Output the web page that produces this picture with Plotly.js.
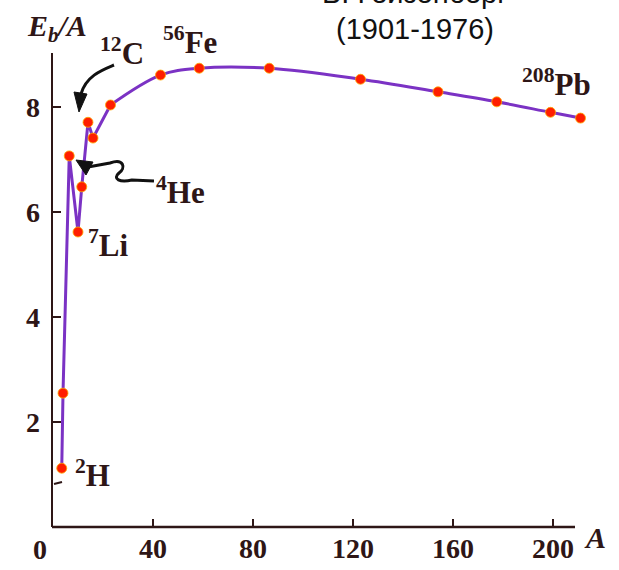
<!DOCTYPE html>
<html><head><meta charset="utf-8">
<script src="https://cdn.plot.ly/plotly-3.0.1.min.js"></script>
<style>html,body{margin:0;padding:0;background:#fff}#chart{width:619px;height:570px}</style>
</head><body><div id="chart"></div>
<script>
// Data
const massNumber = [3.5, 4, 6.5, 10, 11.5, 14, 16, 23, 43, 58.5, 86.5, 123, 154, 177.5, 199, 211];
const bindingPerNucleon = [1.12, 2.55, 7.07, 5.62, 6.48, 7.71, 7.41, 8.04, 8.61, 8.74, 8.74, 8.53, 8.29, 8.10, 7.90, 7.79];
const xTicks = [40, 80, 120, 160, 200];
const yTicks = [2, 4, 6, 8];
const nuclideLabels = ['<sup>2</sup>H', '<sup>4</sup>He', '<sup>7</sup>Li', '<sup>12</sup>C', '<sup>56</sup>Fe', '<sup>208</sup>Pb'];
const headerLines = ['В. Гейзенберг', '(1901-1976)'];

// layout geometry (pixels)
const W = 619, H = 570, L = 53, B = 43, T = 53;
const XPX = 2.5;                 // pixels per unit of A
const xMax = 222;                // data range so the end markers are drawn
const R = W - L - xMax * XPX;
const PW = W - L - R, PH = H - T - B;
const px = x => (x - L) / PW;          // pixel -> paper x
const py = y => (H - B - y) / PH;      // pixel -> paper y
const pathFrom = (cmds) => cmds.map(c => {
  let s = c[0];
  for (let i = 1; i < c.length; i += 2) s += (i > 1 ? ' ' : '') + px(c[i]).toFixed(5) + ',' + py(c[i + 1]).toFixed(5);
  return s;
}).join(' ');

const split = 7; // linear part up to this index, spline beyond
const lineColor = '#7b32c4';
const ink = '#2e1616';

const traces = [
  {x: massNumber.slice(0, split + 1), y: bindingPerNucleon.slice(0, split + 1), mode: 'lines',
   line: {color: lineColor, width: 3, shape: 'linear'}, hoverinfo: 'skip'},
  {x: massNumber.slice(split), y: bindingPerNucleon.slice(split), mode: 'lines',
   line: {color: lineColor, width: 3, shape: 'spline', smoothing: 1}, hoverinfo: 'skip'},
  {x: massNumber, y: bindingPerNucleon, mode: 'markers',
   marker: {color: '#ff1e00', size: 10, line: {color: 'rgba(255,170,0,0.8)', width: 1}}}
];

const labelFont = {family: 'Liberation Serif', size: 31, color: ink, weight: 'bold'};
const labelPos = [[92, 473], [180, 190], [108, 244], [122, 52], [190, 40], [556, 82]];
const annotations = nuclideLabels.map((t, i) => ({
  text: t, xref: 'paper', yref: 'paper', x: px(labelPos[i][0]), y: py(labelPos[i][1]),
  xanchor: 'center', yanchor: 'middle', showarrow: false, font: labelFont
}));
annotations.push(
  {text: '<i>E</i><sub><i>b</i></sub><i>/A</i>', xref: 'paper', yref: 'paper', x: px(57), y: py(28),
   xanchor: 'center', yanchor: 'middle', showarrow: false, font: {family: 'Liberation Serif', size: 30, color: ink, weight: 'bold'}},
  {text: '<i>A</i>', xref: 'paper', yref: 'paper', x: px(595), y: py(537),
   xanchor: 'center', yanchor: 'middle', showarrow: false, font: {family: 'Liberation Serif', size: 30, color: ink, weight: 'bold'}},
  {text: '0', xref: 'paper', yref: 'paper', x: px(40), y: py(549),
   xanchor: 'center', yanchor: 'middle', showarrow: false, font: {family: 'Liberation Serif', size: 28, color: ink, weight: 'bold'}},
  {text: headerLines[0], xref: 'paper', yref: 'paper', x: px(415), y: py(-7),
   xanchor: 'center', yanchor: 'middle', showarrow: false, font: {family: 'Liberation Sans', size: 29, color: '#111'}},
  {text: headerLines[1], xref: 'paper', yref: 'paper', x: px(415), y: py(29),
   xanchor: 'center', yanchor: 'middle', showarrow: false, font: {family: 'Liberation Sans', size: 29, color: '#111'}}
);

const shapes = [
  // x axis line, ending where the reference's axis ends
  {type: 'line', xref: 'paper', yref: 'paper', x0: px(52), x1: px(575), y0: 0, y1: 0, line: {color: ink, width: 2.5}},
  // arrow to 12C
  {type: 'path', xref: 'paper', yref: 'paper', line: {color: '#111', width: 3},
   path: pathFrom([['M', 114, 65], ['C', 102, 70, 86, 76, 81, 94]])},
  {type: 'path', xref: 'paper', yref: 'paper', line: {color: '#111', width: 1}, fillcolor: '#111',
   path: pathFrom([['M', 74, 92], ['L', 87, 94], ['L', 79, 112], ['Z']])},
  // squiggle arrow to 4He
  {type: 'path', xref: 'paper', yref: 'paper', line: {color: '#111', width: 3},
   path: pathFrom([['M', 88, 167], ['L', 110, 163], ['C', 124, 158, 126, 168, 119, 173], ['C', 112, 179, 120, 183, 132, 180], ['L', 154, 181]])},
  {type: 'path', xref: 'paper', yref: 'paper', line: {color: '#111', width: 1}, fillcolor: '#111',
   path: pathFrom([['M', 76, 160], ['L', 93, 162], ['L', 86, 175], ['Z']])},
  // small bracket near 2H
  {type: 'path', xref: 'paper', yref: 'paper', line: {color: ink, width: 2},
   path: pathFrom([['M', 54, 484], ['L', 62, 482]])}
];

const tickFont = {family: 'Liberation Serif', size: 28, color: ink, weight: 'bold'};
const layout = {
  width: W, height: H, margin: {l: L, r: R, t: T, b: B, pad: 0},
  paper_bgcolor: '#fff', plot_bgcolor: '#fff', showlegend: false,
  font: {family: 'Liberation Serif', color: ink},
  xaxis: {range: [0, xMax], tickvals: xTicks, ticks: 'inside', ticklen: 8, tickwidth: 2, tickcolor: ink,
          showline: false, showgrid: false, zeroline: false,
          tickfont: tickFont, ticklabelstandoff: 2, fixedrange: true},
  yaxis: {range: [0, 9.03], tickvals: yTicks, ticks: 'inside', ticklen: 8, tickwidth: 2, tickcolor: ink,
          showline: true, linecolor: ink, linewidth: 2.5, showgrid: false, zeroline: false,
          tickfont: tickFont, ticklabelstandoff: 5, fixedrange: true},
  annotations, shapes
};

Plotly.newPlot('chart', traces, layout, {staticPlot: true, displayModeBar: false});
</script></body></html>
